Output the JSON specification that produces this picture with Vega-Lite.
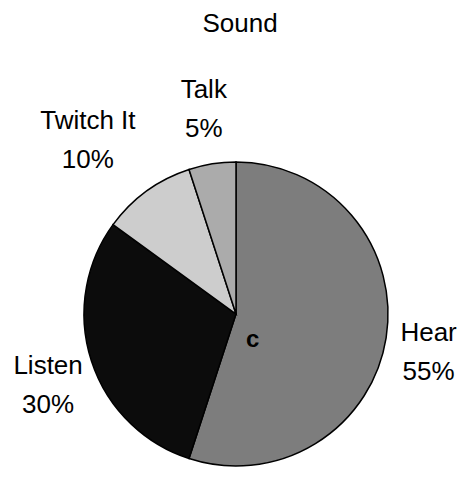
{
  "$schema": "https://vega.github.io/schema/vega-lite/v6.json",
  "autosize": "none",
  "width": 300,
  "height": 300,
  "padding": {"left": 86, "top": 164, "right": 81, "bottom": 13},
  "background": "white",
  "title": {
    "text": "Sound",
    "font": "Liberation Sans",
    "fontSize": 26,
    "fontWeight": "normal",
    "color": "black",
    "anchor": "middle",
    "offset": 40,
    "dx": 4
  },
  "data": {
    "values": [
      {"part": "Hear", "share": 55, "rank": 1, "label": ["Hear", "55%"], "note": "c"},
      {"part": "Listen", "share": 30, "rank": 2, "label": ["Listen", "30%"], "note": ""},
      {"part": "Twitch It", "share": 10, "rank": 3, "label": ["Twitch It", "10%"], "note": ""},
      {"part": "Talk", "share": 5, "rank": 4, "label": ["Talk", "5%"], "note": ""}
    ]
  },
  "encoding": {
    "theta": {"field": "share", "type": "quantitative", "stack": true},
    "order": {"field": "rank", "type": "quantitative"}
  },
  "layer": [
    {
      "mark": {"type": "arc", "outerRadius": 152, "stroke": "black", "strokeWidth": 1.5},
      "encoding": {
        "color": {
          "field": "part",
          "type": "nominal",
          "scale": {
            "domain": ["Hear", "Listen", "Twitch It", "Talk"],
            "range": ["#7d7d7d", "#0c0c0c", "#cdcdcd", "#ababab"]
          },
          "legend": null
        }
      }
    },
    {
      "mark": {
        "type": "text",
        "radius": {"expr": "datum.part === 'Twitch It' ? 218 : datum.part === 'Hear' ? 195 : 206"},
        "dx": {"expr": "datum.part === 'Twitch It' ? -20 : datum.part === 'Listen' ? 8 : 0"},
        "dy": {"expr": "datum.part === 'Talk' ? -21 : datum.part === 'Twitch It' ? -17 : -12"},
        "font": "Liberation Sans",
        "fontSize": 26,
        "lineHeight": 39,
        "align": "center",
        "baseline": "middle",
        "color": "black"
      },
      "encoding": {
        "text": {"field": "label"}
      }
    },
    {
      "mark": {
        "type": "text",
        "radius": 30,
        "dx": -13,
        "dy": 21,
        "font": "Liberation Sans",
        "fontSize": 24,
        "fontWeight": "bold",
        "align": "center",
        "baseline": "middle",
        "color": "black"
      },
      "encoding": {
        "text": {"field": "note"}
      }
    }
  ]
}
